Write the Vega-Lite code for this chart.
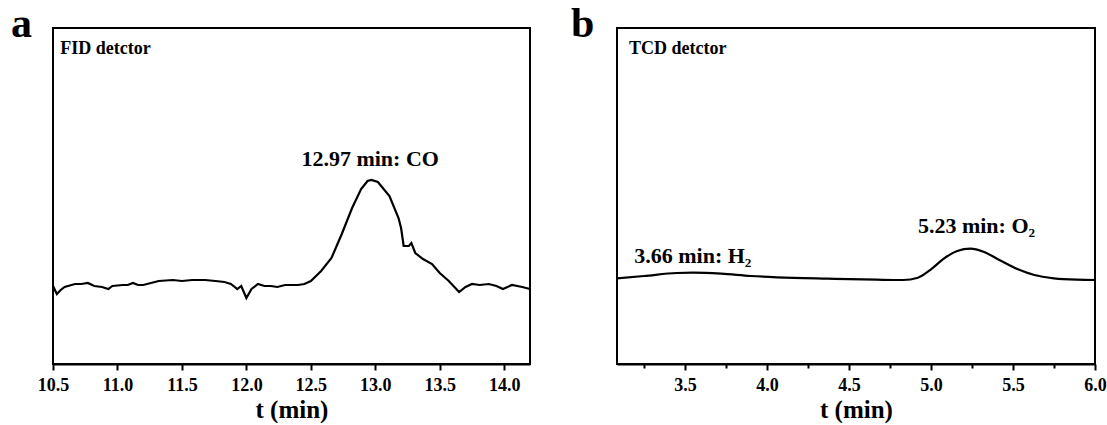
{
  "$schema": "https://vega.github.io/schema/vega-lite/v6.json",
  "background": "white",
  "padding": {"left": 10, "top": 2, "right": 0, "bottom": 0},
  "spacing": 87,
  "bounds": "flush",
  "config": {
    "view": {"stroke": "black", "strokeWidth": 2},
    "axis": {
      "grid": false,
      "labelFont": "Liberation Serif", "labelFontWeight": "bold", "labelFontSize": 18, "labelColor": "black",
      "titleFont": "Liberation Serif", "titleFontWeight": "bold", "titleFontSize": 25, "titleColor": "black",
      "domainColor": "black", "domainWidth": 2, "tickColor": "black", "tickWidth": 2,
      "labelPadding": 6, "labelFlush": false, "labelOverlap": false,
      "titleY": 53, "titleBaseline": "alphabetic"
    },
    "title": {"font": "Liberation Serif", "fontWeight": "bold", "fontSize": 42, "color": "black", "anchor": "start", "frame": "group", "baseline": "alphabetic", "offset": 0}
  },
  "datasets": {
    "fid": [
      {"t": 10.50, "v": 78}, {"t": 10.53, "v": 70}, {"t": 10.56, "v": 74}, {"t": 10.59, "v": 77}, {"t": 10.67, "v": 80},
      {"t": 10.72, "v": 80}, {"t": 10.77, "v": 81}, {"t": 10.82, "v": 78}, {"t": 10.88, "v": 77}, {"t": 10.93, "v": 75},
      {"t": 10.96, "v": 78}, {"t": 11.04, "v": 79}, {"t": 11.08, "v": 79}, {"t": 11.12, "v": 81}, {"t": 11.16, "v": 79}, {"t": 11.20, "v": 79},
      {"t": 11.26, "v": 81}, {"t": 11.32, "v": 83}, {"t": 11.43, "v": 84}, {"t": 11.50, "v": 83}, {"t": 11.58, "v": 84},
      {"t": 11.68, "v": 84}, {"t": 11.76, "v": 83}, {"t": 11.83, "v": 82}, {"t": 11.88, "v": 80}, {"t": 11.93, "v": 75},
      {"t": 11.96, "v": 78}, {"t": 12.00, "v": 66}, {"t": 12.04, "v": 75}, {"t": 12.09, "v": 80}, {"t": 12.14, "v": 78},
      {"t": 12.19, "v": 78}, {"t": 12.24, "v": 77}, {"t": 12.30, "v": 79}, {"t": 12.35, "v": 79}, {"t": 12.40, "v": 79}, {"t": 12.45, "v": 80},
      {"t": 12.50, "v": 83}, {"t": 12.58, "v": 93}, {"t": 12.66, "v": 106}, {"t": 12.74, "v": 130}, {"t": 12.82, "v": 156},
      {"t": 12.89, "v": 175}, {"t": 12.94, "v": 183}, {"t": 12.97, "v": 184}, {"t": 13.02, "v": 182}, {"t": 13.11, "v": 168},
      {"t": 13.18, "v": 146}, {"t": 13.20, "v": 136}, {"t": 13.22, "v": 118}, {"t": 13.26, "v": 118}, {"t": 13.28, "v": 121},
      {"t": 13.31, "v": 111}, {"t": 13.37, "v": 105}, {"t": 13.44, "v": 100}, {"t": 13.50, "v": 91}, {"t": 13.57, "v": 83},
      {"t": 13.65, "v": 72}, {"t": 13.70, "v": 77}, {"t": 13.75, "v": 80}, {"t": 13.81, "v": 79}, {"t": 13.88, "v": 80},
      {"t": 13.94, "v": 78}, {"t": 13.99, "v": 75}, {"t": 14.06, "v": 79}, {"t": 14.14, "v": 77}, {"t": 14.20, "v": 75}
    ],
    "tcd": [
      {"t": 3.085, "v": 85.7}, {"t": 3.25, "v": 88}, {"t": 3.45, "v": 91}, {"t": 3.55, "v": 91.3}, {"t": 3.72, "v": 90.3},
      {"t": 3.90, "v": 88}, {"t": 4.06, "v": 86.7}, {"t": 4.37, "v": 85.3}, {"t": 4.67, "v": 84.3}, {"t": 4.83, "v": 84},
      {"t": 4.92, "v": 86.3}, {"t": 5.00, "v": 94.7}, {"t": 5.08, "v": 105.7}, {"t": 5.16, "v": 113}, {"t": 5.24, "v": 115.3},
      {"t": 5.32, "v": 112.3}, {"t": 5.42, "v": 103.7}, {"t": 5.53, "v": 94.7}, {"t": 5.63, "v": 89}, {"t": 5.75, "v": 85.7},
      {"t": 5.89, "v": 84.3}, {"t": 6.0, "v": 84}
    ],
    "notes": [
      {"panel": "a", "kind": "detector", "t": 10.557, "v": 310, "label": "FID detctor"},
      {"panel": "a", "kind": "peak", "t": 12.96, "v": 198, "label": "12.97 min: CO"},
      {"panel": "b", "kind": "detector", "t": 3.158, "v": 310, "label": "TCD detctor"},
      {"panel": "b", "kind": "peak", "t": 3.19, "v": 101, "label": "3.66 min: H₂"},
      {"panel": "b", "kind": "peak", "t": 4.92, "v": 131, "label": "5.23 min: O₂"}
    ]
  },
  "hconcat": [
    {
      "width": 477, "height": 336,
      "title": {"text": "a", "dx": -42, "dy": 22},
      "layer": [
        {
          "data": {"name": "fid"},
          "mark": {"type": "line", "color": "black", "strokeWidth": 2.2},
          "encoding": {
            "x": {"field": "t", "type": "quantitative", "scale": {"domain": [10.5, 14.2], "nice": false, "zero": false},
              "axis": {"title": "t (min)", "values": [10.5, 10.75, 11, 11.25, 11.5, 11.75, 12, 12.25, 12.5, 12.75, 13, 13.25, 13.5, 13.75, 14],
                "labelExpr": "abs(datum.value*2 - round(datum.value*2)) < 0.001 ? format(datum.value, '.1f') : ''",
                "tickSize": {"condition": {"test": "abs(datum.value*2 - round(datum.value*2)) < 0.001", "value": 6}, "value": 4}}},
            "y": {"field": "v", "type": "quantitative", "scale": {"domain": [0, 336], "nice": false, "zero": false}, "axis": null}
          }
        },
        {
          "data": {"name": "notes"},
          "transform": [{"filter": "datum.panel === 'a' && datum.kind === 'detector'"}],
          "mark": {"type": "text", "font": "Liberation Serif", "fontWeight": "bold", "fontSize": 18, "align": "left", "baseline": "alphabetic", "color": "black"},
          "encoding": {"x": {"field": "t", "type": "quantitative"}, "y": {"field": "v", "type": "quantitative"}, "text": {"field": "label"}}
        },
        {
          "data": {"name": "notes"},
          "transform": [{"filter": "datum.panel === 'a' && datum.kind === 'peak'"}],
          "mark": {"type": "text", "font": "Liberation Serif", "fontWeight": "bold", "fontSize": 22, "align": "center", "baseline": "alphabetic", "color": "black"},
          "encoding": {"x": {"field": "t", "type": "quantitative"}, "y": {"field": "v", "type": "quantitative"}, "text": {"field": "label"}}
        }
      ]
    },
    {
      "width": 478, "height": 336,
      "title": {"text": "b", "dx": -46, "dy": 22},
      "layer": [
        {
          "data": {"name": "tcd"},
          "mark": {"type": "line", "color": "black", "strokeWidth": 2.2, "interpolate": "monotone"},
          "encoding": {
            "x": {"field": "t", "type": "quantitative", "scale": {"domain": [3.085, 6.0], "nice": false, "zero": false},
              "axis": {"title": "t (min)", "values": [3.25, 3.5, 3.75, 4, 4.25, 4.5, 4.75, 5, 5.25, 5.5, 5.75, 6],
                "labelExpr": "abs(datum.value*2 - round(datum.value*2)) < 0.001 ? format(datum.value, '.1f') : ''",
                "tickSize": {"condition": {"test": "abs(datum.value*2 - round(datum.value*2)) < 0.001", "value": 6}, "value": 4}}},
            "y": {"field": "v", "type": "quantitative", "scale": {"domain": [0, 336], "nice": false, "zero": false}, "axis": null}
          }
        },
        {
          "data": {"name": "notes"},
          "transform": [{"filter": "datum.panel === 'b' && datum.kind === 'detector'"}],
          "mark": {"type": "text", "font": "Liberation Serif", "fontWeight": "bold", "fontSize": 18, "align": "left", "baseline": "alphabetic", "color": "black"},
          "encoding": {"x": {"field": "t", "type": "quantitative"}, "y": {"field": "v", "type": "quantitative"}, "text": {"field": "label"}}
        },
        {
          "data": {"name": "notes"},
          "transform": [{"filter": "datum.panel === 'b' && datum.kind === 'peak'"}],
          "mark": {"type": "text", "font": "Liberation Serif", "fontWeight": "bold", "fontSize": 22, "align": "left", "baseline": "alphabetic", "color": "black"},
          "encoding": {"x": {"field": "t", "type": "quantitative"}, "y": {"field": "v", "type": "quantitative"}, "text": {"field": "label"}}
        }
      ]
    }
  ]
}
